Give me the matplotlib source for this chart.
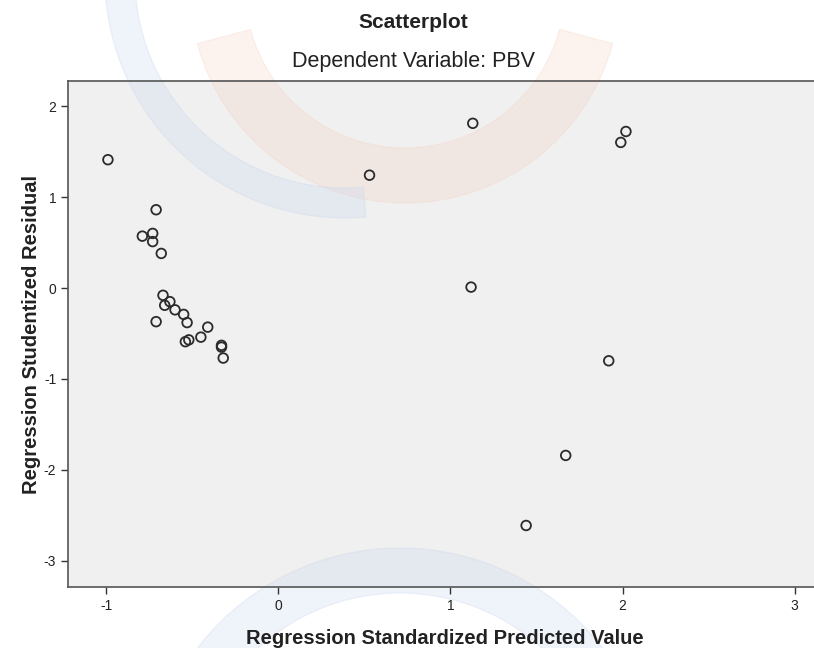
import matplotlib
matplotlib.use("Agg")
import matplotlib.pyplot as plt
from matplotlib.patches import Wedge
import numpy as np

# standardized predicted value vs studentized residual
pred = [-0.99, -0.71, -0.79, -0.73, -0.73, -0.68, -0.67, -0.66, -0.63, -0.60,
        -0.71, -0.55, -0.53, -0.41, -0.45, -0.54, -0.52, -0.33, -0.33, -0.32,
        0.53, 1.13, 1.12, 1.99, 2.02, 1.92, 1.67, 1.44]
resid = [1.41, 0.86, 0.57, 0.60, 0.51, 0.38, -0.08, -0.19, -0.15, -0.24,
         -0.37, -0.29, -0.38, -0.43, -0.54, -0.59, -0.57, -0.63, -0.65, -0.77,
         1.24, 1.81, 0.01, 1.60, 1.72, -0.80, -1.84, -2.61]
xticks = [-1, 0, 1, 2, 3]
yticks = [-3, -2, -1, 0, 1, 2]

plt.rcParams['font.family'] = ['Liberation Sans', 'DejaVu Sans']
plt.rcParams['axes.unicode_minus'] = False

fig = plt.figure(figsize=(8.14, 6.48), dpi=100)
ax = fig.add_axes([68 / 814, 61 / 648, 1.01 - 68 / 814, 506 / 648])
ax.set_facecolor('#f0f0f0')

# faint logo arcs behind the plot (inches, so they stay round)
blue = '#c8d6ee'
arcs = [Wedge((4.05, 6.60), 2.15, 195, 345, width=0.55, color='#f4c9b6', alpha=0.22),
        Wedge((3.45, 6.70), 2.40, 185, 275, width=0.30, color=blue, alpha=0.28),
        Wedge((4.00, -1.55), 2.55, 35, 145, width=0.45, color=blue, alpha=0.28)]
for w in arcs:
    w.set_transform(fig.dpi_scale_trans)
    w.set_clip_on(False)
    w.set_zorder(0.5)
    ax.add_artist(w)

ax.scatter(pred, resid, s=48, facecolors='none', edgecolors='#2b2b2b',
           linewidths=1.3, zorder=3)

ax.set_xlim(-1.222, 3.16)
ax.set_ylim(-3.286, 2.275)
ax.set_xticks(xticks)
ax.set_yticks(yticks)
ax.tick_params(direction='out', length=5, width=1, colors='#333333',
               labelsize=10, labelcolor='#222222')
for side in ['left', 'bottom', 'top']:
    ax.spines[side].set_color('#555555')
    ax.spines[side].set_linewidth(1.2)
ax.spines['right'].set_visible(False)

ax.set_xlabel('Regression Standardized Predicted Value', fontsize=14.5,
              fontweight='bold', labelpad=12, color='#222222')
ax.set_ylabel('Regression Studentized Residual', fontsize=14.5,
              fontweight='bold', labelpad=2, color='#222222')

fig.text(413 / 814, 1 - 23 / 648, 'Scatterplot', ha='center', va='center',
         fontsize=15, fontweight='bold', color='#222222')
fig.text(413 / 814, 1 - 61 / 648, 'Dependent Variable: PBV', ha='center',
         va='center', fontsize=15.5, color='#222222')

fig.savefig('out.png', dpi=100, facecolor='white')
